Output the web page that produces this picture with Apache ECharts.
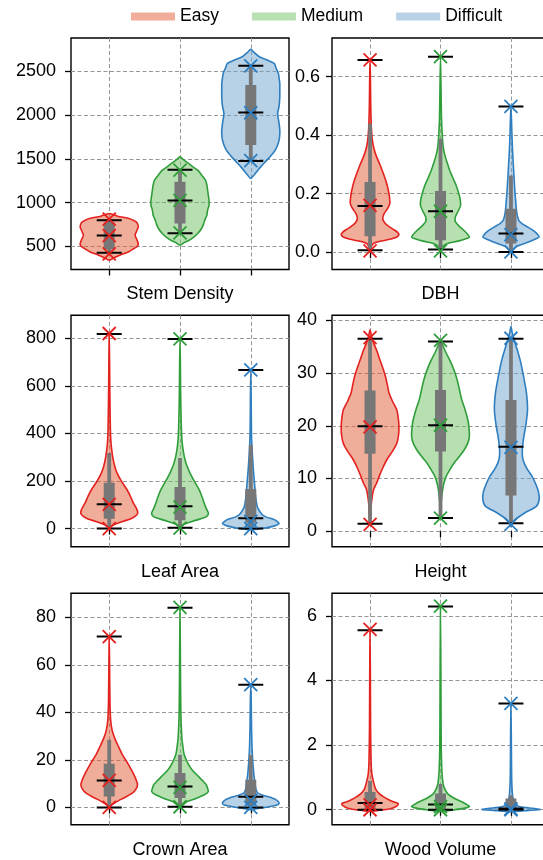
<!DOCTYPE html>
<html><head><meta charset="utf-8">
<script src="https://cdn.jsdelivr.net/npm/echarts@6/dist/echarts.min.js"></script>
<style>html,body{margin:0;padding:0;background:#fff}#c{width:543px;height:860px}</style>
</head><body><div id="c"></div>
<script>
const groups = ['Easy', 'Medium', 'Difficult'];
const panelNames = ['Stem Density', 'DBH', 'Leaf Area', 'Height', 'Crown Area', 'Wood Volume'];
const yTicks = [[500, 1000, 1500, 2000, 2500], [0, 0.2, 0.4, 0.6], [0, 200, 400, 600, 800], [0, 10, 20, 30, 40], [0, 20, 40, 60, 80], [0, 2, 4, 6]];
const yRanges = [[238, 2877], [-0.059, 0.732], [-76.8, 896.5], [-2.95, 40.95], [-7.3, 90.2], [-0.466, 6.70]];
const xTicks = [1, 2, 3];

// stats per violin: [min, q1, median, q3, max, whiskerLow, whiskerHigh]
// marks per violin (x markers): [min, mean, max]
// profiles per violin: [value, half-width]
const stemDensityStats = [[430, 470, 625, 775, 800, 430, 800], [652, 762, 1025, 1237, 1375, 652, 1375], [1474, 1656, 2029, 2340, 2560, 1474, 2560]];
const stemDensityMarks = [[415, 625, 812], [655, 1025, 1372], [1480, 2025, 2560]];
const stemDensityProfiles = [
  [[344,0],[363,0.05],[401,0.15],[438,0.27],[477,0.35],[505,0.4],[534,0.41],[580,0.39],[629,0.365],[680,0.39],[724,0.41],[760,0.4],[781,0.38],[800,0.34],[819,0.28],[846,0.12],[876,0]],
  [[515,0],[545,0.06],[572,0.13],[610,0.2],[648,0.25],[700,0.3],[750,0.33],[800,0.35],[860,0.38],[914,0.39],[970,0.41],[1028,0.41],[1085,0.4],[1142,0.39],[1200,0.38],[1256,0.36],[1310,0.31],[1370,0.25],[1410,0.18],[1447,0.12],[1490,0.05],[1522,0]],
  [[1276,0],[1330,0.06],[1370,0.1],[1408,0.14],[1460,0.2],[1522,0.27],[1580,0.33],[1637,0.37],[1713,0.4],[1780,0.41],[1827,0.41],[1900,0.4],[2017,0.38],[2100,0.4],[2207,0.41],[2300,0.41],[2360,0.41],[2420,0.4],[2474,0.39],[2530,0.36],[2588,0.33],[2630,0.22],[2663,0.12],[2710,0.05],[2748,0]]
];

const dbhStats = [[0.007, 0.055, 0.158, 0.240, 0.657, 0.007, 0.439], [0.009, 0.041, 0.140, 0.209, 0.668, 0.009, 0.388], [0.001, 0.030, 0.064, 0.149, 0.498, 0.001, 0.262]];
const dbhMarks = [[0.005, 0.16, 0.657], [0.005, 0.14, 0.668], [0.001, 0.06, 0.498]];
const dbhProfiles = [
  [[0.005,0],[0.02,0.02],[0.03,0.05],[0.035,0.1],[0.041,0.22],[0.046,0.31],[0.052,0.38],[0.06,0.41],[0.068,0.39],[0.077,0.34],[0.086,0.28],[0.1,0.21],[0.115,0.18],[0.132,0.2],[0.15,0.25],[0.166,0.28],[0.19,0.275],[0.211,0.26],[0.24,0.23],[0.268,0.19],[0.3,0.14],[0.325,0.095],[0.35,0.06],[0.38,0.035],[0.42,0.02],[0.5,0.01],[0.6,0.005],[0.66,0]],
  [[0.009,0],[0.02,0.03],[0.03,0.1],[0.038,0.25],[0.046,0.36],[0.052,0.41],[0.06,0.39],[0.075,0.33],[0.09,0.26],[0.105,0.21],[0.12,0.21],[0.14,0.25],[0.16,0.285],[0.18,0.28],[0.2,0.26],[0.23,0.22],[0.257,0.17],[0.28,0.13],[0.302,0.1],[0.325,0.07],[0.35,0.045],[0.382,0.03],[0.45,0.015],[0.55,0.008],[0.668,0]],
  [[0.0,0],[0.007,0.02],[0.02,0.08],[0.035,0.25],[0.045,0.35],[0.052,0.4],[0.06,0.38],[0.068,0.35],[0.077,0.3],[0.086,0.24],[0.097,0.16],[0.109,0.11],[0.125,0.09],[0.143,0.078],[0.18,0.065],[0.211,0.055],[0.25,0.045],[0.302,0.033],[0.35,0.022],[0.416,0.012],[0.45,0.008],[0.498,0]]
];

const leafAreaStats = [[0, 41, 102, 192, 818, 0, 318], [3, 35, 94, 175, 797, 3, 297], [0, 24, 43, 166, 667, 0, 352]];
const leafAreaMarks = [[0, 102, 820], [2, 90, 797], [0, 30, 667]];
const leafAreaProfiles = [
  [[0,0],[10,0.03],[20,0.1],[31,0.2],[40,0.3],[52,0.37],[62,0.4],[73,0.4],[90,0.375],[108,0.34],[135,0.3],[164,0.25],[200,0.17],[234,0.11],[260,0.08],[300,0.05],[350,0.028],[400,0.018],[500,0.012],[600,0.008],[700,0.005],[818,0]],
  [[3,0],[10,0.02],[17,0.05],[31,0.18],[45,0.34],[55,0.39],[66,0.4],[85,0.37],[108,0.34],[135,0.31],[164,0.27],[200,0.2],[234,0.14],[270,0.09],[303,0.06],[350,0.035],[400,0.022],[500,0.013],[600,0.008],[700,0.005],[797,0]],
  [[-5,0],[0,0.15],[7,0.28],[14,0.36],[21,0.4],[30,0.37],[38,0.33],[48,0.22],[59,0.16],[75,0.12],[94,0.09],[130,0.07],[164,0.06],[200,0.05],[234,0.04],[300,0.025],[373,0.012],[450,0.008],[550,0.005],[667,0]]
];

const heightStats = [[1.4, 14.7, 19.9, 26.7, 36.5, 1.4, 36.5], [2.5, 15.1, 20.1, 26.8, 36.0, 2.5, 36.0], [1.5, 6.8, 16.0, 24.9, 36.5, 1.5, 36.5]];
const heightMarks = [[1.3, 19.8, 36.7], [2.5, 20.1, 36.2], [1.3, 15.9, 36.6]];
const heightProfiles = [
  [[1.4,0],[3,0.01],[5.4,0.02],[7.9,0.05],[9,0.09],[10.4,0.13],[12,0.18],[13.6,0.24],[15.2,0.32],[16.7,0.38],[18.3,0.405],[19.9,0.41],[21.5,0.4],[23,0.38],[24.6,0.32],[26.2,0.27],[27.8,0.245],[29.3,0.22],[31,0.18],[32.5,0.14],[34.1,0.1],[35.7,0.05],[37,0.02],[38.2,0]],
  [[2.5,0],[4,0.005],[5.4,0.01],[7.9,0.03],[9.2,0.05],[10.4,0.08],[11.6,0.13],[12.9,0.19],[14.2,0.27],[15.5,0.34],[16.8,0.39],[18,0.41],[19.5,0.405],[21,0.39],[23,0.35],[25,0.3],[27.4,0.26],[29,0.23],[30.6,0.19],[32.2,0.14],[33.8,0.08],[35,0.04],[36.2,0]],
  [[0.8,0],[1.5,0.02],[2.2,0.06],[3.5,0.2],[4.7,0.36],[6,0.4],[7.5,0.39],[9,0.35],[10.4,0.3],[12,0.22],[13.6,0.17],[15,0.16],[16.7,0.17],[18.5,0.19],[20,0.21],[23,0.235],[26.2,0.22],[29.3,0.18],[32.5,0.13],[35.7,0.06],[37.5,0.02],[38.8,0]]
];

const crownAreaStats = [[0, 4.6, 11.4, 18.4, 72.0, 0, 28.5], [0.3, 4.0, 8.8, 14.5, 84.1, 0.3, 22.2], [0, 1.6, 4.5, 11.7, 51.7, 0, 22.2]];
const crownAreaMarks = [[0, 11.4, 72.0], [0.3, 8.5, 84.3], [0, 3.0, 51.7]];
const crownAreaProfiles = [
  [[0,0],[1.1,0.03],[2,0.08],[3.2,0.15],[4.5,0.24],[6.1,0.33],[7.8,0.38],[9.6,0.4],[11.3,0.385],[13.1,0.36],[16,0.31],[18.7,0.26],[22,0.19],[25.7,0.13],[29,0.08],[32.7,0.04],[36.9,0.02],[45,0.01],[60,0.005],[72,0]],
  [[0.3,0],[1,0.04],[2.5,0.1],[3.5,0.2],[4.6,0.29],[5.6,0.36],[6.7,0.4],[8,0.39],[9.6,0.37],[11.3,0.32],[13.1,0.26],[15.5,0.18],[18.7,0.11],[22.2,0.06],[25.7,0.04],[30,0.025],[40,0.012],[60,0.006],[84,0]],
  [[-1,0],[-0.3,0.12],[0.2,0.24],[0.9,0.36],[1.6,0.4],[2.4,0.39],[3.2,0.36],[4,0.3],[4.6,0.24],[5.3,0.16],[6.1,0.1],[7.5,0.075],[9.5,0.062],[11.7,0.052],[15,0.04],[18.7,0.03],[25,0.018],[35,0.01],[45,0.006],[51.7,0]]
];

const woodVolumeStats = [[0, 0.03, 0.205, 0.55, 5.56, 0, 0.9], [0, 0.03, 0.165, 0.5, 6.29, 0, 0.8], [0, 0.005, 0.04, 0.35, 3.29, 0, 0.45]];
const woodVolumeMarks = [[0, 0.15, 5.58], [0, 0.1, 6.3], [0, 0.03, 3.29]];
const woodVolumeProfiles = [
  [[-0.05,0],[0,0.2],[0.04,0.3],[0.08,0.35],[0.13,0.39],[0.19,0.4],[0.25,0.33],[0.32,0.26],[0.39,0.2],[0.5,0.13],[0.6,0.09],[0.7,0.07],[0.9,0.045],[1.12,0.025],[1.5,0.015],[2.5,0.008],[4,0.005],[5.56,0]],
  [[-0.05,0],[0,0.2],[0.05,0.35],[0.1,0.41],[0.15,0.38],[0.24,0.31],[0.35,0.2],[0.5,0.1],[0.7,0.05],[0.91,0.03],[1.3,0.018],[2,0.01],[4,0.006],[6.29,0]],
  [[-0.06,0],[-0.02,0.25],[0.01,0.41],[0.04,0.33],[0.08,0.15],[0.13,0.08],[0.19,0.05],[0.3,0.035],[0.5,0.02],[1,0.01],[2,0.006],[3.29,0]]
];

const allStats = [stemDensityStats, dbhStats, leafAreaStats, heightStats, crownAreaStats, woodVolumeStats];
const allMarks = [stemDensityMarks, dbhMarks, leafAreaMarks, heightMarks, crownAreaMarks, woodVolumeMarks];
const allProfiles = [stemDensityProfiles, dbhProfiles, leafAreaProfiles, heightProfiles, crownAreaProfiles, woodVolumeProfiles];

const FONT = 'Liberation Sans, Arial, sans-serif';
const fills = ['rgba(226,92,52,0.5)', 'rgba(112,194,100,0.5)', 'rgba(112,163,206,0.5)'];
const legendFills = ['#f1ad99', '#b8e0b2', '#b8d1e7'];
const edges = ['#e3211f', '#2f9e3a', '#2e7ec0'];
const boxGray = '#777777';

const gridLefts = [71, 332];
const gridWidths = [218, 217];
const gridTops = [38, 315.3, 593.3];
const gridH = 231.5;
const nameGaps = [16, 16, 16];
const labelMargins = [15, 12, 15, 15, 15, 15];

const grids = [], xAxes = [], yAxes = [], series = [];
for (let p = 0; p < 6; p++) {
  const col = p % 2, row = Math.floor(p / 2);
  grids.push({left: gridLefts[col], top: gridTops[row], width: gridWidths[col], height: gridH,
    show: true, borderColor: '#000', borderWidth: 1.4, backgroundColor: 'rgba(0,0,0,0)',
    containLabel: false, outerBoundsMode: 'none'});
  xAxes.push({type: 'value', gridIndex: p, min: 0.46, max: 3.54,
    name: panelNames[p], nameLocation: 'middle', nameGap: nameGaps[row],
    nameTextStyle: {fontSize: 18, color: '#000', fontFamily: FONT},
    axisLine: {show: false},
    axisTick: {show: true, length: 6, customValues: xTicks, lineStyle: {color: '#000', width: 1.3}},
    axisLabel: {show: false, customValues: xTicks},
    splitLine: {show: true, lineStyle: {color: '#969696', width: 1, type: [4, 2.5]}}
  });
  const dec = p === 1 ? 1 : 0;
  yAxes.push({type: 'value', gridIndex: p, min: yRanges[p][0], max: yRanges[p][1],
    axisLine: {show: false},
    axisTick: {show: true, length: 6, customValues: yTicks[p], lineStyle: {color: '#000', width: 1.3}},
    axisLabel: {show: true, customValues: yTicks[p], margin: labelMargins[p], fontSize: 18, color: '#000', fontFamily: FONT,
      formatter: v => Number(v).toFixed(dec)},
    splitLine: {show: true, lineStyle: {color: '#969696', width: 1, type: [4, 2.5]}}
  });
  for (let g = 0; g < 3; g++) {
    series.push(violinSeries(p, g, allProfiles[p][g], allStats[p][g], allMarks[p][g]));
  }
}

function violinSeries(panel, gi, profile, stat, mark) {
  return {
    type: 'custom', name: groups[gi], xAxisIndex: panel, yAxisIndex: panel,
    itemStyle: {color: legendFills[gi]}, clip: true, silent: true,
    data: [[xTicks[gi], stat[0], stat[4]]],
    renderItem: function (params, api) {
      const pos = api.value(0);
      const c = (x, y) => api.coord([x, y]);
      const pts = [];
      profile.forEach(([v, w]) => pts.push(c(pos + w, v)));
      for (let i = profile.length - 1; i >= 0; i--) {
        const [v, w] = profile[i];
        if (w === 0) continue;
        pts.push(c(pos - w, v));
      }
      const cx = c(pos, stat[2])[0];
      const children = [];
      children.push({type: 'polygon', shape: {points: pts, smooth: 0.25},
        style: {fill: fills[gi], stroke: edges[gi], lineWidth: 1.6, lineJoin: 'round'}});
      const wl = c(pos, stat[5])[1], wh = c(pos, stat[6])[1];
      children.push({type: 'rect', shape: {x: cx - 1.9, y: wh, width: 3.8, height: wl - wh}, style: {fill: boxGray}});
      const q1 = c(pos, stat[1])[1], q3 = c(pos, stat[3])[1];
      children.push({type: 'rect', shape: {x: cx - 5.5, y: q3, width: 11, height: q1 - q3}, style: {fill: boxGray}});
      [stat[0], stat[2], stat[4]].forEach(v => {
        const y = c(pos, v)[1];
        children.push({type: 'line', shape: {x1: cx - 12.5, y1: y, x2: cx + 12.5, y2: y}, style: {stroke: '#000', lineWidth: 2}});
      });
      const s = 6.5;
      mark.forEach(v => {
        const y = c(pos, v)[1];
        children.push({type: 'line', shape: {x1: cx - s, y1: y - s, x2: cx + s, y2: y + s}, style: {stroke: edges[gi], lineWidth: 1.8}});
        children.push({type: 'line', shape: {x1: cx - s, y1: y + s, x2: cx + s, y2: y - s}, style: {stroke: edges[gi], lineWidth: 1.8}});
      });
      return {type: 'group', children: children};
    }
  };
}

const chart = echarts.init(document.getElementById('c'), null, {renderer: 'canvas'});
chart.setOption({
  animation: false,
  backgroundColor: '#fff',
  textStyle: {fontFamily: FONT},
  legend: {
    left: 131, top: 6, padding: 0, itemWidth: 44, itemHeight: 8, itemGap: 33, icon: 'rect', selectedMode: false,
    textStyle: {fontSize: 17.5, color: '#000', fontFamily: FONT, lineHeight: 21},
    itemStyle: {borderWidth: 0},
    data: groups.map((g, i) => ({name: g, itemStyle: {color: legendFills[i], borderWidth: 0}}))
  },
  grid: grids, xAxis: xAxes, yAxis: yAxes, series: series
});
</script>
</body></html>
